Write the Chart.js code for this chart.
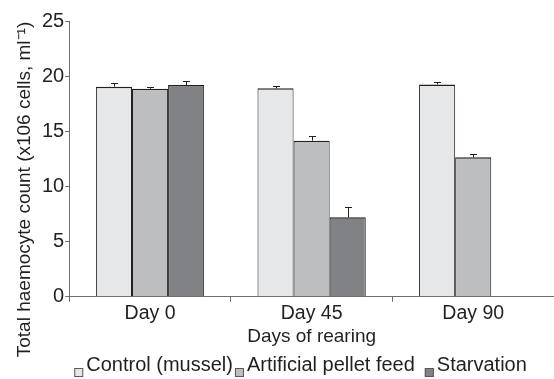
<!DOCTYPE html>
<html>
<head>
<meta charset="utf-8">
<script src="https://cdn.jsdelivr.net/npm/chart.js@4.4.1/dist/chart.umd.min.js"></script>
<style>
  html, body { margin: 0; padding: 0; background: #fff; }
  #wrap { width: 554px; height: 379px; }
</style>
</head>
<body>
<div id="wrap"><canvas id="chart"></canvas></div>
<script>
// Data
const days = ["Day 0", "Day 45", "Day 90"];
const controlValues = [19.05, 18.9, 19.25];
const controlErrors = [0.35, 0.2, 0.2];
const pelletValues = [18.85, 14.15, 12.65];
const pelletErrors = [0.2, 0.4, 0.3];
const starvationValues = [19.2, 7.2, null];
const starvationErrors = [0.35, 0.95, null];
const yTicks = [0, 5, 10, 15, 20, 25];

const errorsBySet = [controlErrors, pelletErrors, starvationErrors];
const yTitle = "Total haemocyte count (x106 cells, ml\u207B\u00B9)";
const FAMILY = "'Liberation Sans', Arial, sans-serif";
const INK = "#231f20";

// Upper error bars with a small cap
const errorBars = {
  id: "errorBars",
  afterDatasetsDraw(chart) {
    const ctx = chart.ctx;
    const yScale = chart.scales.y;
    ctx.save();
    ctx.strokeStyle = INK;
    ctx.lineWidth = 1;
    chart.data.datasets.forEach((ds, i) => {
      const meta = chart.getDatasetMeta(i);
      meta.data.forEach((bar, j) => {
        const v = ds.data[j];
        const e = errorsBySet[i][j];
        if (v == null || e == null) return;
        const x = Math.round(bar.x) + 0.5;
        const top = Math.round(yScale.getPixelForValue(v + e)) + 0.5;
        ctx.beginPath();
        ctx.moveTo(x, bar.y);
        ctx.lineTo(x, top);
        ctx.moveTo(x - 3.5, top);
        ctx.lineTo(x + 3.5, top);
        ctx.stroke();
      });
    });
    ctx.restore();
  }
};

// Y title centred on the whole canvas, and a tight legend row underneath
const extras = {
  id: "extras",
  afterDraw(chart) {
    const ctx = chart.ctx;
    ctx.save();
    ctx.fillStyle = INK;
    ctx.font = "19px " + FAMILY;
    ctx.textAlign = "center";
    ctx.textBaseline = "alphabetic";
    ctx.translate(30, chart.height / 2);
    ctx.rotate(-Math.PI / 2);
    ctx.fillText(yTitle, 0, 0);
    ctx.restore();

    ctx.save();
    ctx.font = "20px " + FAMILY;
    ctx.textBaseline = "alphabetic";
    ctx.textAlign = "left";
    let x = chart.chartArea.left + 5;
    const baseY = 371;
    chart.data.datasets.forEach((ds, i) => {
      ctx.fillStyle = ds.backgroundColor;
      ctx.fillRect(x, baseY - 3, 9, 9);
      ctx.strokeStyle = "#58595b";
      ctx.lineWidth = 1;
      ctx.strokeRect(x + 0.5, baseY - 2.5, 8, 8);
      x += 12;
      ctx.fillStyle = INK;
      ctx.fillText(ds.label, x, baseY);
      x += ctx.measureText(ds.label).width + (i === 1 ? 10 : 2);
    });
    ctx.restore();
  }
};

const tickFont = { family: FAMILY, size: 19.5 };

new Chart(document.getElementById("chart"), {
  type: "bar",
  data: {
    labels: days,
    datasets: [
      {
        label: "Control (mussel)",
        data: controlValues,
        backgroundColor: "#e6e7e8",
        borderColor: INK,
        borderWidth: { top: 1.5, left: 1, right: 1, bottom: 0 },
      },
      {
        label: "Artificial pellet feed",
        data: pelletValues,
        backgroundColor: "#bcbec0",
        borderColor: INK,
        borderWidth: { top: 1.5, left: 1, right: 1, bottom: 0 },
      },
      {
        label: "Starvation",
        data: starvationValues,
        backgroundColor: "#808285",
        borderColor: INK,
        borderWidth: { top: 1.5, left: 1, right: 1, bottom: 0 },
      },
    ],
  },
  options: {
    responsive: true,
    maintainAspectRatio: false,
    animation: false,
    categoryPercentage: 0.67,
    barPercentage: 1.0,
    layout: { padding: { top: 21, right: 0, left: 41, bottom: 31 } },
    plugins: {
      legend: { display: false },
      tooltip: { enabled: false },
    },
    scales: {
      x: {
        grid: { drawOnChartArea: false, color: "#6d6e71", tickLength: 5 },
        border: { color: "#6d6e71", width: 1 },
        ticks: { color: INK, font: tickFont, padding: 0 },
        title: {
          display: true,
          text: "Days of rearing",
          color: INK,
          font: { family: FAMILY, size: 19 },
          padding: { top: 0, bottom: 0 },
        },
      },
      y: {
        min: 0,
        max: 25,
        afterBuildTicks(axis) {
          axis.ticks = yTicks.map((v) => ({ value: v }));
        },
        grid: { drawOnChartArea: false, color: "#6d6e71", tickLength: 4 },
        border: { color: "#6d6e71", width: 1 },
        ticks: { color: INK, font: { family: FAMILY, size: 20 }, padding: 1 },
      },
    },
  },
  plugins: [errorBars, extras],
});
</script>
</body>
</html>
